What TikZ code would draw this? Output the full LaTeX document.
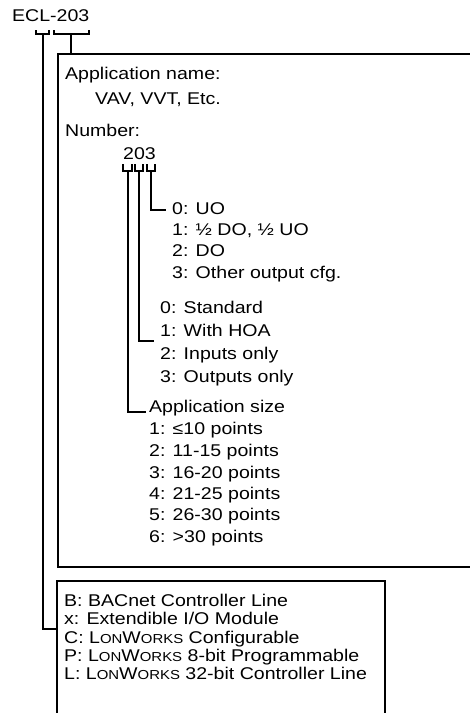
\documentclass[tikz,border=0pt]{standalone}
\usepackage{fontspec}
\setmainfont{Liberation Sans}[FakeStretch=1.15]
\newcommand\lonw{L{\fontsize{13}{13}\selectfont ON}W{\fontsize{13}{13}\selectfont ORKS}}
\begin{document}
\begin{tikzpicture}[x=1pt,y=-1pt,
  txt/.style={inner sep=0pt,anchor=base west,font=\fontsize{17}{20}\selectfont},
  ln/.style={line width=1.3pt,line cap=rect},
  boxl/.style={line width=1.1pt}]
\useasboundingbox (0,0) rectangle (470,713);
\clip (0,0) rectangle (470,713);
% boxes
\draw[boxl] (58,54) rectangle (490,567);
\draw[boxl] (57,581) rectangle (385,740);
% top label
\node[txt] (ecl) at (12,21) {ECL-203};
% brackets under ECL-203
\coordinate (a1) at (36,31); \coordinate (a2) at (49,31);
\coordinate (am) at (43,34); \coordinate (aend) at (43,629); \coordinate (atip) at (57,629);
\draw[ln] (a1) |- (a2 |- am) -- (a2);
\coordinate (b1) at (54,31); \coordinate (b2) at (89,31);
\coordinate (bm) at (71,34); \coordinate (btip) at (71,54);
\draw[ln] (b1) |- (b2 |- bm) -- (b2);
\draw[ln] (am) -- (aend) -- (atip);
\draw[ln] (bm) -- (btip);
% main box texts
\node[txt] (appn) at (65,79) {Application name:};
\node[txt] (vav) at (95,104) {VAV, VVT, Etc.};
\node[txt] (num) at (65,136) {Number:};
\node[txt] (n203) at (123,159) {203};
% brackets under 203
\foreach \l/\r/\m [count=\i] in {123/132/128, 135/143/139, 147/155/151}{
  \coordinate (d\i l) at (\l,165); \coordinate (d\i r) at (\r,165);
  \coordinate (d\i m) at (\m,171);
  \draw[ln] (d\i l) |- (d\i r |- d\i m) -- (d\i r);
}
\coordinate (c3) at (151,210); \coordinate (e3) at (165,210);
\coordinate (c2) at (139,341); \coordinate (e2) at (153,341);
\coordinate (c1) at (128,412); \coordinate (e1) at (145,412);
\draw[ln] (d3m) -- (c3) -- (e3);
\draw[ln] (d2m) -- (c2) -- (e2);
\draw[ln] (d1m) -- (c1) -- (e1);
% output configuration
\node[txt] (o0) at (172,214) {0: UO};
\node[txt] (o1) at (172,235) {1: ½ DO, ½ UO};
\node[txt] (o2) at (172,256) {2: DO};
\node[txt] (o3) at (172,278) {3: Other output cfg.};
% type
\node[txt] (t0) at (160,313) {0: Standard};
\node[txt] (t1) at (160,336) {1: With HOA};
\node[txt] (t2) at (160,359) {2: Inputs only};
\node[txt] (t3) at (160,382) {3: Outputs only};
% size
\node[txt] (s0) at (149,412) {Application size};
\node[txt] (s1) at (149,434) {1: ≤10 points};
\node[txt] (s2) at (149,456) {2: 11-15 points};
\node[txt] (s3) at (149,478) {3: 16-20 points};
\node[txt] (s4) at (149,499) {4: 21-25 points};
\node[txt] (s5) at (149,520) {5: 26-30 points};
\node[txt] (s6) at (149,542) {6: >30 points};
% bottom box
\node[txt] (lb) at (64,606) {B: BACnet Controller Line};
\node[txt] (lx) at (64,624) {x: Extendible I/O Module};
\node[txt] (lc) at (64,643) {C: \lonw{} Configurable};
\node[txt] (lp) at (64,661) {P: \lonw{} 8-bit Programmable};
\node[txt] (ll) at (64,679) {L: \lonw{} 32-bit Controller Line};
\end{tikzpicture}
\end{document}
